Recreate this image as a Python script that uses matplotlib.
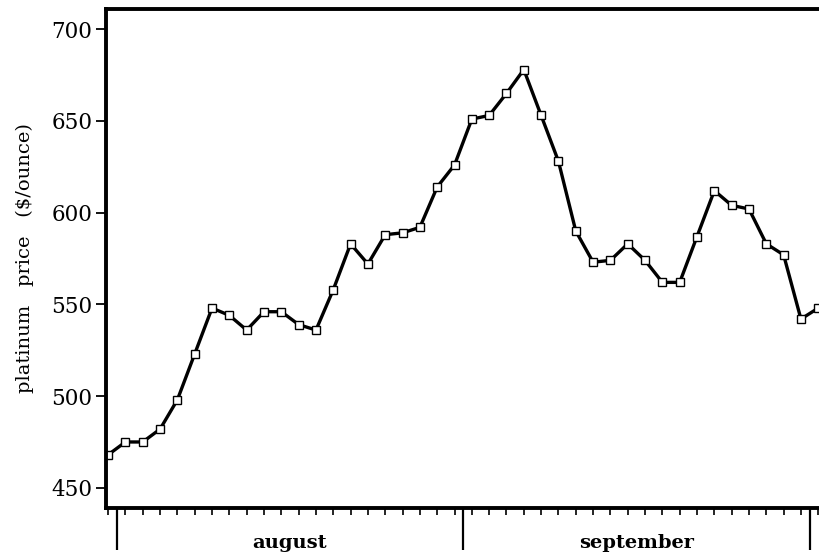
import numpy as np
import matplotlib
matplotlib.use("Agg")
import matplotlib.pyplot as plt

# platinum price, one point per trading day (end of july .. start of october)
price = [468, 475, 475, 482, 498, 523, 548, 544, 536, 546,
         546, 539, 536, 558, 583, 572, 588, 589, 592, 614,
         626, 651, 653, 665, 678, 653, 628, 590, 573, 574,
         583, 574, 562, 562, 587, 612, 604, 602, 583, 577,
         542, 548]
day = np.arange(len(price))

months = ["august", "september"]
month_edges = [0.5, 20.5, 40.5]
yticks = [450, 500, 550, 600, 650, 700]

plt.rcParams['font.family'] = ['DejaVu Serif']

fig = plt.figure(figsize=(8.2, 5.54), dpi=100)
ax = fig.add_axes([0.1293, 0.083, 0.8707, 0.9007])

ax.plot(day, price, color='black', linewidth=2.4, marker='s', markersize=5.5,
        markerfacecolor='white', markeredgecolor='black', markeredgewidth=1.0)

ax.set_xlim(-0.12, 41.1)
ax.set_ylim(439, 711)

ax.set_yticks(yticks)
ax.set_yticklabels([str(v) for v in yticks], fontsize=15.5)
ax.tick_params(axis='y', direction='out', length=7, width=1.3, pad=3)

ax.set_xticks(month_edges)
ax.set_xticklabels([])
ax.set_xticks(day, minor=True)
ax.tick_params(axis='x', which='major', direction='out', length=30, width=1.6)
ax.tick_params(axis='x', which='minor', direction='out', length=5, width=1.2)

for i, m in enumerate(months):
    xc = (month_edges[i] + month_edges[i + 1]) / 2
    ax.text(xc, -0.07, m, transform=ax.get_xaxis_transform(), ha='center', va='center',
            fontsize=14, fontweight='bold')

ax.set_ylabel("platinum   price   ($/ounce)", fontsize=14, labelpad=12)

for s in ['left', 'bottom', 'top']:
    ax.spines[s].set_linewidth(2.8)
ax.spines['right'].set_visible(False)

fig.savefig("out.png", dpi=100)
